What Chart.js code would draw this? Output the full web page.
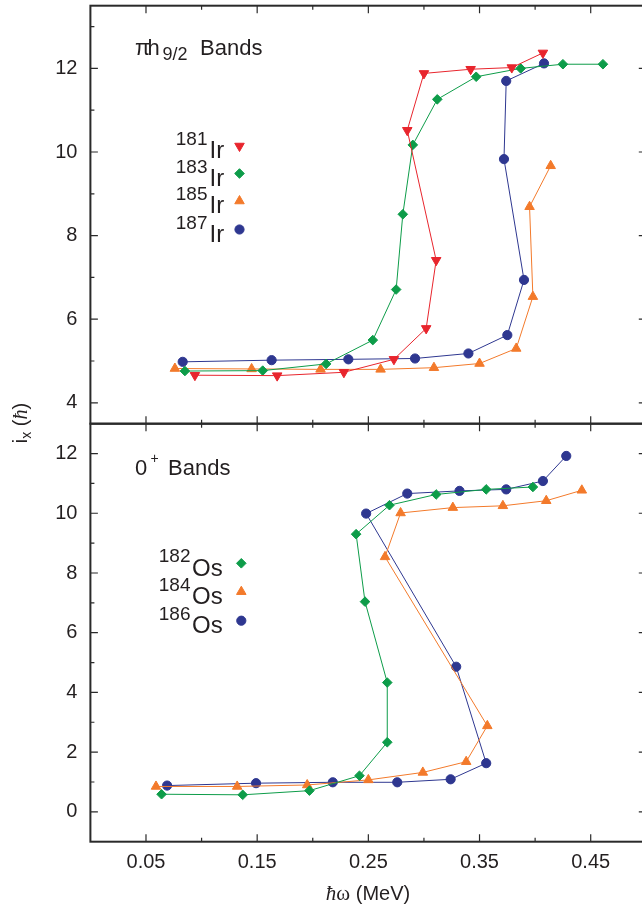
<!DOCTYPE html>
<html>
<head>
<meta charset="utf-8">
<title>Aligned angular momentum</title>
<script src="https://cdn.jsdelivr.net/npm/chart.js@4.4.1/dist/chart.umd.min.js"></script>
<style>
    html, body { margin: 0; padding: 0; background: #fff; overflow: hidden; }
    #wrap { position: relative; width: 642px; height: 912px; overflow: hidden; }
    canvas { position: absolute; left: 0; top: 0; }
</style>
</head>
<body>
<div id="wrap">
    <canvas id="topChart" width="660" height="912"></canvas>
    <canvas id="bottomChart" width="660" height="912"></canvas>
</div>
<script>
// Données : [hbar omega (MeV), i_x (hbar)]
const ir181 = [[0.094, 4.66], [0.168, 4.65], [0.228, 4.73], [0.273, 5.04], [0.302, 5.78], [0.311, 7.41],
               [0.285, 10.52], [0.300, 11.88], [0.342, 11.98], [0.379, 12.02], [0.407, 12.37]];
const ir183 = [[0.085, 4.76], [0.155, 4.77], [0.212, 4.93], [0.254, 5.50], [0.275, 6.71], [0.281, 8.51],
               [0.290, 10.17], [0.312, 11.26], [0.347, 11.80], [0.387, 12.00], [0.425, 12.10], [0.461, 12.10]];
const ir185 = [[0.076, 4.82], [0.145, 4.81], [0.207, 4.80], [0.261, 4.80], [0.309, 4.84], [0.350, 4.94],
               [0.383, 5.30], [0.398, 6.54], [0.395, 8.69], [0.414, 9.67]];
const ir187 = [[0.083, 4.98], [0.163, 5.02], [0.232, 5.04], [0.292, 5.06], [0.340, 5.18], [0.375, 5.62],
               [0.390, 6.94], [0.372, 9.83], [0.374, 11.70], [0.408, 12.12]];

const os182 = [[0.064, 0.59], [0.137, 0.57], [0.197, 0.71], [0.242, 1.21], [0.267, 2.33], [0.267, 4.33],
               [0.247, 7.04], [0.239, 9.30], [0.269, 10.27], [0.311, 10.63], [0.356, 10.80], [0.398, 10.88]];
const os184 = [[0.059, 0.85], [0.132, 0.85], [0.195, 0.90], [0.250, 1.07], [0.299, 1.32], [0.338, 1.68],
               [0.357, 2.88], [0.265, 8.54], [0.279, 10.01], [0.326, 10.19], [0.371, 10.25], [0.410, 10.42], [0.442, 10.77]];
const os186 = [[0.069, 0.88], [0.149, 0.96], [0.218, 0.99], [0.276, 0.99], [0.324, 1.09], [0.356, 1.63],
               [0.329, 4.86], [0.248, 9.99], [0.285, 10.66], [0.332, 10.75], [0.374, 10.80], [0.407, 11.08], [0.428, 11.92]];

// Graduations
const xTickLabels = [0.05, 0.15, 0.25, 0.35, 0.45];
const xMinorTicks = [0.1, 0.2, 0.3, 0.4];
const topYTicks = [4, 6, 8, 10, 12];
const topYMinor = [5, 7, 9, 11, 13];
const bottomYTicks = [0, 2, 4, 6, 8, 10, 12];
const bottomYMinor = [1, 3, 5, 7, 9, 11];

// Couleurs
const RED = '#e8252d';
const GREEN = '#0d9c49';
const ORANGE = '#f37a2b';
const BLUE = '#2e3790';
const INK = '#231f20';

const SANS = '"Liberation Sans", Arial, sans-serif';
const SERIF = '"Liberation Serif", "Times New Roman", serif';

// Tailles des symboles
const TRI = 5.5;
const DIA = 4.8;
const DOT = 4.6;

// Géométrie commune des deux panneaux
const AXIS_LEFT = 90.4;
const RIGHT_PAD = 660 - 646.3;
const TOP_EDGE = 5.7;
const MID_EDGE = 423.7;
const BOTTOM_EDGE = 841.7;

function series(points, color, style, rotation, radius) {
    return {
        data: points.map(p => ({ x: p[0], y: p[1] })),
        showLine: true,
        borderColor: color,
        borderWidth: 1,
        backgroundColor: color,
        pointBackgroundColor: color,
        pointBorderColor: color,
        pointBorderWidth: 1,
        pointStyle: style,
        rotation: rotation,
        pointRadius: radius,
        tension: 0
    };
}

// Texte composite (indices / exposants)
function drawParts(ctx, parts) {
    parts.forEach(p => {
        ctx.font = p.font;
        ctx.textAlign = p.align || 'left';
        ctx.fillText(p.text, p.x, p.y);
    });
}

function drawRichCentered(ctx, x, y, parts) {
    let w = 0;
    parts.forEach(p => { ctx.font = p[1]; w += ctx.measureText(p[0]).width; });
    let cx = x - w / 2;
    ctx.textAlign = 'left';
    parts.forEach(p => {
        ctx.font = p[1];
        ctx.fillText(p[0], cx, y + (p[2] || 0));
        cx += ctx.measureText(p[0]).width;
    });
}

function legendEntry(ctx, sup, main, supRight, mainLeft, mx, my, color, style, rotation, radius) {
    ctx.fillStyle = INK;
    drawParts(ctx, [
        { text: sup, font: '19px ' + SANS, x: supRight, y: my - 1, align: 'right' },
        { text: main, font: '24px ' + SANS, x: mainLeft, y: my + 12.3 }
    ]);
    ctx.fillStyle = color;
    ctx.strokeStyle = color;
    ctx.lineWidth = 1;
    Chart.helpers.drawPoint(ctx, { pointStyle: style, rotation: rotation, radius: radius, borderWidth: 1 }, mx, my);
}

// Cadre et graduations vers l'intérieur
function framePlugin(yMajor, yMinor) {
    return {
        id: 'frame',
        afterDraw(chart) {
            const { ctx, chartArea: a } = chart;
            const xs = chart.scales.x, ys = chart.scales.y;
            ctx.save();
            ctx.strokeStyle = '#2a2a2a';
            ctx.lineWidth = 1.2;
            ctx.beginPath();
            const vTick = (v, len) => {
                const px = xs.getPixelForValue(v);
                ctx.moveTo(px, a.top); ctx.lineTo(px, a.top + len);
                ctx.moveTo(px, a.bottom); ctx.lineTo(px, a.bottom - len);
            };
            const hTick = (v, len) => {
                const py = ys.getPixelForValue(v);
                ctx.moveTo(a.left, py); ctx.lineTo(a.left + len, py);
                ctx.moveTo(a.right, py); ctx.lineTo(a.right - len, py);
            };
            xTickLabels.forEach(v => vTick(v, 7.5));
            xMinorTicks.forEach(v => vTick(v, 4));
            yMajor.forEach(v => hTick(v, 7.5));
            yMinor.forEach(v => hTick(v, 4));
            ctx.stroke();
            ctx.lineWidth = 2;
            ctx.strokeRect(a.left, a.top, a.right - a.left, a.bottom - a.top);
            ctx.restore();
        }
    };
}

const topLabels = {
    id: 'topLabels',
    afterDraw(chart) {
        const ctx = chart.ctx;
        ctx.save();
        ctx.textBaseline = 'alphabetic';
        ctx.fillStyle = INK;
        drawParts(ctx, [
            { text: 'π', font: '22px ' + SANS, x: 135, y: 55 },
            { text: 'h', font: '22px ' + SANS, x: 147.5, y: 55 },
            { text: '9/2', font: '18px ' + SANS, x: 162.5, y: 60 },
            { text: 'Bands', font: '22px ' + SANS, x: 200, y: 55 }
        ]);
        legendEntry(ctx, '181', 'Ir', 207.5, 209.5, 239.5, 146, RED, 'triangle', 180, TRI);
        legendEntry(ctx, '183', 'Ir', 207.5, 209.5, 239.5, 173.5, GREEN, 'rectRot', 0, DIA);
        legendEntry(ctx, '185', 'Ir', 207.5, 209.5, 239.5, 201, ORANGE, 'triangle', 0, TRI);
        legendEntry(ctx, '187', 'Ir', 207.5, 209.5, 239.5, 229.5, BLUE, 'circle', 0, DOT);

        // Titre de l'axe vertical (commun aux deux panneaux)
        ctx.fillStyle = INK;
        ctx.translate(27, 423);
        ctx.rotate(-Math.PI / 2);
        drawRichCentered(ctx, 0, 0, [
            ['i', '20px ' + SANS],
            ['x', '14px ' + SANS, 4],
            [' (', '20px ' + SANS],
            ['ħ', 'italic 20px ' + SERIF],
            [')', '20px ' + SANS]
        ]);
        ctx.restore();
    }
};

const bottomLabels = {
    id: 'bottomLabels',
    afterDraw(chart) {
        const ctx = chart.ctx;
        ctx.save();
        ctx.textBaseline = 'alphabetic';
        ctx.fillStyle = INK;
        drawParts(ctx, [
            { text: '0', font: '22px ' + SANS, x: 135, y: 475 },
            { text: '+', font: '14px ' + SANS, x: 150.5, y: 463 },
            { text: 'Bands', font: '22px ' + SANS, x: 168, y: 475 }
        ]);
        legendEntry(ctx, '182', 'Os', 190.5, 192, 241.3, 563.3, GREEN, 'rectRot', 0, DIA);
        legendEntry(ctx, '184', 'Os', 190.5, 192, 241.3, 591.7, ORANGE, 'triangle', 0, TRI);
        legendEntry(ctx, '186', 'Os', 190.5, 192, 241.3, 620.7, BLUE, 'circle', 0, DOT);

        ctx.fillStyle = INK;
        drawRichCentered(ctx, 368, 900, [
            ['ħ', 'italic 21px ' + SERIF],
            ['ω', '21px ' + SERIF],
            [' (MeV)', '20px ' + SANS]
        ]);
        ctx.restore();
    }
};

// Pas de marge automatique autour des étiquettes : le cadre reste où on le place
function noLabelPadding(s) {
    s.paddingTop = 0;
    s.paddingBottom = 0;
    s.paddingLeft = 0;
    s.paddingRight = 0;
}

function yScale(min, max, tickValues) {
    return {
        type: 'linear',
        min: min,
        max: max,
        afterFit: s => { s.width = AXIS_LEFT; noLabelPadding(s); },
        afterBuildTicks: s => { s.ticks = tickValues.map(v => ({ value: v })); },
        grid: { display: false, drawTicks: false },
        border: { display: false },
        ticks: {
            padding: 13,
            color: INK,
            font: { family: SANS, size: 20 }
        }
    };
}

const baseOptions = {
    responsive: false,
    animation: false,
    events: [],
    plugins: { legend: { display: false }, tooltip: { enabled: false } }
};

// Panneau du haut : bandes pi h9/2
new Chart(document.getElementById('topChart'), {
    type: 'scatter',
    data: {
        datasets: [
            series(ir181, RED, 'triangle', 180, TRI),
            series(ir183, GREEN, 'rectRot', 0, DIA),
            series(ir185, ORANGE, 'triangle', 0, TRI),
            series(ir187, BLUE, 'circle', 0, DOT)
        ]
    },
    options: Object.assign({}, baseOptions, {
        layout: { autoPadding: false, padding: { left: 0, top: TOP_EDGE, right: RIGHT_PAD, bottom: 912 - MID_EDGE } },
        scales: {
            x: { type: 'linear', min: 0, max: 0.5, display: false },
            y: yScale(3.5, 13.5, topYTicks)
        }
    }),
    plugins: [framePlugin(topYTicks, topYMinor), topLabels]
});

// Panneau du bas : bandes 0+
new Chart(document.getElementById('bottomChart'), {
    type: 'scatter',
    data: {
        datasets: [
            series(os182, GREEN, 'rectRot', 0, DIA),
            series(os184, ORANGE, 'triangle', 0, TRI),
            series(os186, BLUE, 'circle', 0, DOT)
        ]
    },
    options: Object.assign({}, baseOptions, {
        layout: { autoPadding: false, padding: { left: 0, top: MID_EDGE, right: RIGHT_PAD, bottom: 0 } },
        scales: {
            x: {
                type: 'linear',
                min: 0,
                max: 0.5,
                afterFit: s => { s.height = 912 - BOTTOM_EDGE; noLabelPadding(s); },
                afterBuildTicks: s => { s.ticks = xTickLabels.map(v => ({ value: v })); },
                grid: { display: false, drawTicks: false },
                border: { display: false },
                ticks: {
                    padding: 9,
                    maxRotation: 0,
                    autoSkip: false,
                    color: INK,
                    font: { family: SANS, size: 20 },
                    callback: v => Number(v).toFixed(2)
                }
            },
            y: yScale(-1, 13, bottomYTicks)
        }
    }),
    plugins: [framePlugin(bottomYTicks, bottomYMinor), bottomLabels]
});
</script>
</body>
</html>
